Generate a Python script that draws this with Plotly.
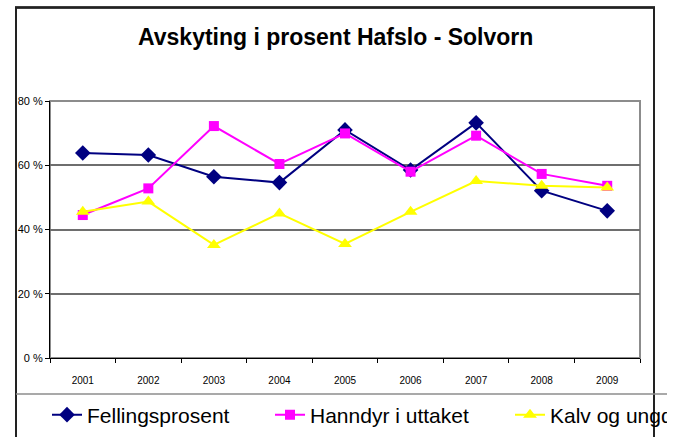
import plotly.graph_objects as go

years = ["2001", "2002", "2003", "2004", "2005", "2006", "2007", "2008", "2009"]
fellingsprosent = [63.8, 63.2, 56.4, 54.6, 71.0, 58.5, 73.2, 52.1, 45.8]
hanndyr = [44.5, 52.8, 72.2, 60.4, 69.9, 58.0, 69.2, 57.3, 53.6]
kalv = [45.5, 48.7, 35.2, 45.0, 35.5, 45.5, 55.1, 53.6, 53.1]
y_ticks = [0, 20, 40, 60, 80]
y_tick_labels = ["0 %", "20 %", "40 %", "60 %", "80 %"]

W, H = 667, 437
L, R, T, B = 50, 640, 101, 358


def px(x):
    return (x - L) / (R - L)


def py(y):
    return (B - y) / (B - T)


fig = go.Figure()
fig.add_trace(go.Scatter(
    x=years, y=fellingsprosent, name="Fellingsprosent", mode="lines+markers",
    line=dict(color="#000080", width=2),
    marker=dict(symbol="diamond", size=12, color="#000080"),
    legend="legend"))
fig.add_trace(go.Scatter(
    x=years, y=hanndyr, name="Hanndyr i uttaket", mode="lines+markers",
    line=dict(color="#FF00FF", width=2),
    marker=dict(symbol="square", size=10, color="#FF00FF"),
    legend="legend2"))
fig.add_trace(go.Scatter(
    x=years, y=kalv, name="Kalv og ungdyr i uttaket", mode="lines+markers",
    line=dict(color="#FFFF00", width=2),
    marker=dict(symbol="triangle-up", size=12, color="#FFFF00"),
    legend="legend3"))

frame = "#222222"
shapes = [
    dict(type="rect", xref="paper", yref="paper", x0=0, x1=1, y0=0, y1=1,
         line=dict(color="#8c8c8c", width=2), layer="below"),
    dict(type="rect", xref="paper", yref="paper", x0=px(16), x1=px(654), y0=py(445), y1=py(7.5),
         line=dict(color=frame, width=2), fillcolor="rgba(0,0,0,0)", layer="above"),
    dict(type="line", xref="paper", yref="paper", x0=px(15), x1=px(655), y0=py(7.5), y1=py(7.5),
         line=dict(color=frame, width=2.5), layer="above"),
    dict(type="line", xref="paper", yref="paper", x0=px(16), x1=px(670), y0=py(394), y1=py(394),
         line=dict(color="#8c8c8c", width=1.5)),
]

leg_font = dict(family="Liberation Sans, Arial, sans-serif", size=21, color="black")
legend_common = dict(orientation="h", xanchor="left", yanchor="middle", y=py(415),
                     font=leg_font, bgcolor="rgba(0,0,0,0)", borderwidth=0)

fig.update_layout(
    width=W, height=H,
    margin=dict(l=L, r=W - R, t=T, b=H - B, autoexpand=False),
    paper_bgcolor="white", plot_bgcolor="white",
    font=dict(family="Liberation Sans, Arial, sans-serif", color="black"),
    annotations=[dict(text="<b>Avskyting i prosent Hafslo - Solvorn</b>", xref="paper", yref="paper",
                      x=px(335.5), y=py(37), xanchor="center", yanchor="middle", showarrow=False,
                      font=dict(family="Liberation Sans, Arial, sans-serif", size=23, color="black"))],
    shapes=shapes,
    showlegend=True,
    legend=dict(legend_common, x=px(47)),
    legend2=dict(legend_common, x=px(270)),
    legend3=dict(legend_common, x=px(510)),
    xaxis=dict(type="category", categoryorder="array", categoryarray=years,
               showline=True, linecolor="black", linewidth=1,
               ticks="outside", ticklen=4, tickcolor="black", tickson="boundaries",
               showgrid=False, tickfont=dict(size=10), ticklabelstandoff=13,
               range=[-0.5, 8.5], zeroline=False),
    yaxis=dict(range=[0, 80], tickmode="array", tickvals=y_ticks, ticktext=y_tick_labels,
               showline=True, linecolor="black", linewidth=1,
               ticks="outside", ticklen=4, tickcolor="black",
               showgrid=True, gridcolor="#6e6e6e", gridwidth=1.5,
               tickfont=dict(size=11), zeroline=False),
)

fig.write_html("out.html", config={"displayModeBar": False},
               post_script="document.body.style.margin='0';document.body.style.overflow='hidden';")
